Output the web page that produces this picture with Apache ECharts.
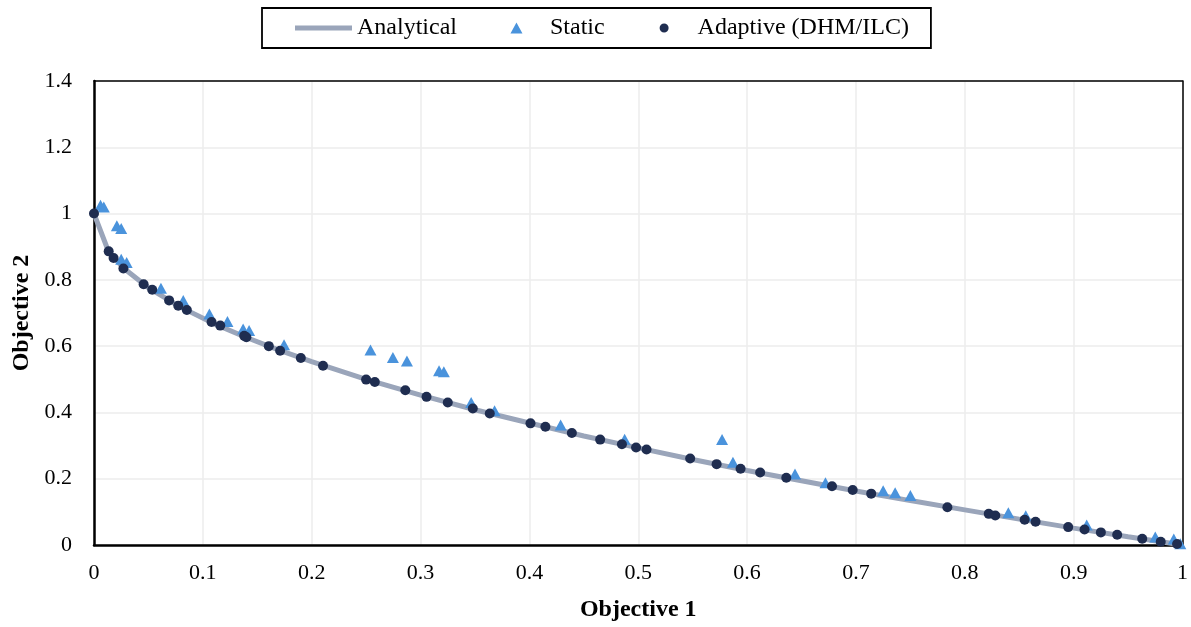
<!DOCTYPE html>
<html>
<head>
<meta charset="utf-8">
<script src="https://cdn.jsdelivr.net/npm/echarts@6/dist/echarts.min.js"></script>
<style>
html,body{margin:0;padding:0;background:#fff;}
#chart{width:1191px;height:627px;}
</style>
</head>
<body>
<div id="chart"></div>
<script>
// Analytical Pareto front (x = Objective 1, y = Objective 2)
const analyticalX = [0, 0.0135, 0.027, 0.05, 0.08, 0.11, 0.14, 0.17, 0.2, 0.25, 0.3, 0.35, 0.4, 0.45, 0.5, 0.55, 0.6, 0.65, 0.7, 0.75, 0.8, 0.85, 0.9, 0.95, 1];
const analyticalY = [1, 0.884, 0.836, 0.776, 0.717, 0.668, 0.626, 0.588, 0.553, 0.5, 0.452, 0.408, 0.368, 0.329, 0.293, 0.258, 0.225, 0.194, 0.163, 0.134, 0.106, 0.078, 0.051, 0.025, 0];

// Static (triangles)
const staticX = [0.006, 0.009, 0.021, 0.025, 0.025, 0.03, 0.0615, 0.082, 0.106, 0.1226, 0.137, 0.1425, 0.1746, 0.254, 0.2746, 0.2875, 0.317, 0.3214, 0.3465, 0.368, 0.4287, 0.4875, 0.577, 0.587, 0.644, 0.672, 0.725, 0.736, 0.75, 0.84, 0.856, 0.912, 0.975, 0.992, 0.998];
const staticY = [1.025, 1.02, 0.963, 0.955, 0.862, 0.852, 0.775, 0.738, 0.697, 0.674, 0.652, 0.647, 0.604, 0.588, 0.566, 0.555, 0.526, 0.523, 0.43, 0.405, 0.362, 0.319, 0.318, 0.25, 0.214, 0.188, 0.164, 0.158, 0.149, 0.097, 0.088, 0.06, 0.024, 0.018, 0.004];

// Adaptive (DHM/ILC) (circles)
const adaptiveX = [0, 0.0135, 0.018, 0.027, 0.0456, 0.0535, 0.069, 0.0774, 0.0853, 0.108, 0.116, 0.138, 0.14, 0.1606, 0.171, 0.19, 0.2104, 0.25, 0.258, 0.286, 0.3055, 0.325, 0.348, 0.3636, 0.401, 0.4147, 0.439, 0.465, 0.485, 0.498, 0.5076, 0.5477, 0.572, 0.594, 0.612, 0.636, 0.678, 0.697, 0.714, 0.784, 0.822, 0.828, 0.855, 0.865, 0.895, 0.91, 0.925, 0.94, 0.963, 0.98, 0.995];
const adaptiveY = [1, 0.886, 0.866, 0.834, 0.787, 0.77, 0.738, 0.722, 0.709, 0.673, 0.662, 0.631, 0.627, 0.6, 0.586, 0.564, 0.541, 0.499, 0.492, 0.467, 0.447, 0.43, 0.412, 0.397, 0.367, 0.357, 0.338, 0.318, 0.304, 0.294, 0.288, 0.261, 0.244, 0.23, 0.219, 0.203, 0.177, 0.166, 0.155, 0.114, 0.094, 0.089, 0.076, 0.07, 0.054, 0.047, 0.038, 0.031, 0.019, 0.01, 0.003];

const seriesNames = ['Analytical', 'Static', 'Adaptive (DHM/ILC)'];
const xAxisTitle = 'Objective 1';
const yAxisTitle = 'Objective 2';

function zip(xs, ys){ return xs.map((x, i) => [x, ys[i]]); }

const FONT = '"Liberation Serif", "Times New Roman", serif';
// legend icons: invisible corner specks keep the 57x12 box so the mark stays small and centred
const BOX = 'M0,0L0.01,0L0,0.01Z M57,12L56.99,12L57,11.99Z ';
const lineIcon = 'path://' + BOX + 'M0,3.5L57,3.5L57,8.5L0,8.5Z';
const triIcon = 'path://' + BOX + 'M22.5,11.5L28.5,0.5L34.5,11.5Z';
const dotIcon = 'path://' + BOX + 'M28.5,1.5A4.5,4.5,0,1,1,28.49,1.5Z';

const frameAxis = {
  show: true, axisLabel: {show: false}, axisTick: {show: false}, splitLine: {show: false},
  axisLine: {show: true, onZero: false, lineStyle: {color: '#000', width: 1.5}}
};

const chart = echarts.init(document.getElementById('chart'), null, {renderer: 'canvas'});
chart.setOption({
  backgroundColor: '#ffffff',
  animation: false,
  textStyle: {fontFamily: FONT, color: '#000'},
  grid: {left: 94, right: 7, top: 81, bottom: 82},
  legend: {
    data: [
      {name: seriesNames[0], icon: lineIcon},
      {name: seriesNames[1], icon: triIcon},
      {name: seriesNames[2], icon: dotIcon}
    ],
    left: 262, top: 8,
    padding: [8, 22, 8, 33],
    itemGap: 31,
    itemWidth: 57, itemHeight: 12,
    borderColor: '#000', borderWidth: 1.8,
    textStyle: {fontFamily: FONT, fontSize: 24, color: '#000'}
  },
  xAxis: [{
    type: 'value', min: 0, max: 1, interval: 0.1,
    name: xAxisTitle, nameLocation: 'middle', nameGap: 53,
    nameTextStyle: {fontFamily: FONT, fontSize: 24, fontWeight: 'bold', color: '#000'},
    axisLine: {show: true, onZero: false, lineStyle: {color: '#000', width: 2.5}},
    axisTick: {show: false},
    axisLabel: {fontFamily: FONT, fontSize: 22, color: '#000', margin: 17},
    splitLine: {show: true, lineStyle: {color: '#ececec', width: 1.5}}
  }, Object.assign({type: 'value', min: 0, max: 1, interval: 0.1, position: 'top'}, frameAxis)],
  yAxis: [{
    type: 'value', min: 0, max: 1.4, interval: 0.2,
    name: yAxisTitle, nameLocation: 'middle', nameGap: 57, nameRotate: 90,
    nameTextStyle: {fontFamily: FONT, fontSize: 24, fontWeight: 'bold', color: '#000'},
    axisLine: {show: true, onZero: false, lineStyle: {color: '#000', width: 2.5}},
    axisTick: {show: false},
    axisLabel: {fontFamily: FONT, fontSize: 22, color: '#000', margin: 22},
    splitLine: {show: true, lineStyle: {color: '#ececec', width: 1.5}}
  }, Object.assign({type: 'value', min: 0, max: 1.4, interval: 0.2, position: 'right'}, frameAxis)],
  series: [
    {
      name: seriesNames[0], type: 'line', data: zip(analyticalX, analyticalY),
      showSymbol: false, symbol: 'none', z: 1,
      lineStyle: {color: '#9aa5ba', width: 5},
      itemStyle: {color: '#9aa5ba'}
    },
    {
      name: seriesNames[1], type: 'scatter', data: zip(staticX, staticY),
      symbol: 'triangle', symbolSize: [12, 11], z: 2,
      itemStyle: {color: '#4a93dc', opacity: 1}
    },
    {
      name: seriesNames[2], type: 'scatter', data: zip(adaptiveX, adaptiveY),
      symbol: 'circle', symbolSize: 10, z: 3,
      itemStyle: {color: '#1f2d50', opacity: 1}
    }
  ]
});
</script>
</body>
</html>
